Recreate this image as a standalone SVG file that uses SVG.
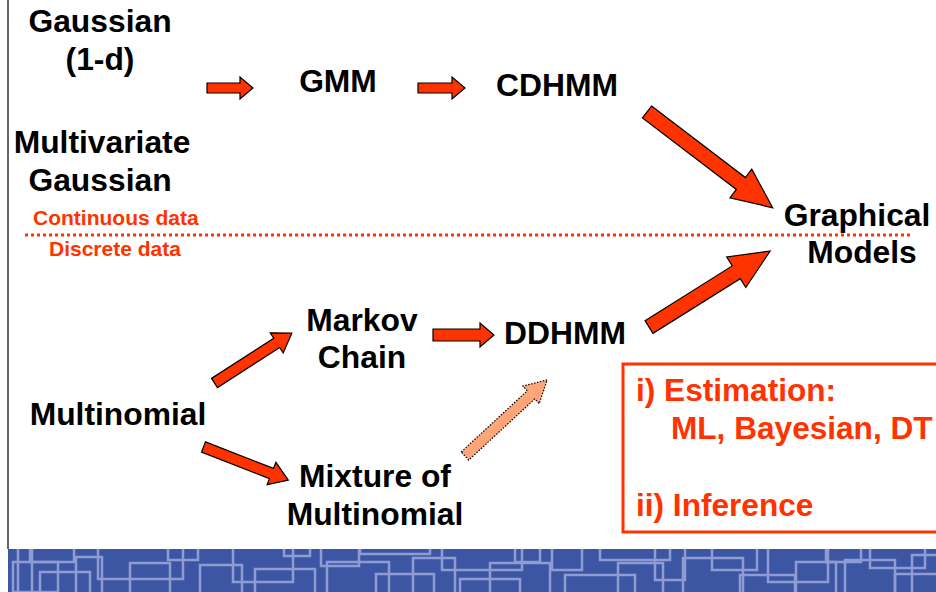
<svg xmlns="http://www.w3.org/2000/svg" width="936" height="592" viewBox="0 0 936 592">
<style>
.t{font-family:"Liberation Sans",Arial,sans-serif;font-weight:bold;font-size:31.8px;fill:#000;text-anchor:middle}
.r{font-family:"Liberation Sans",Arial,sans-serif;font-weight:bold;font-size:31.6px;fill:#ff3300}
.s{font-family:"Liberation Sans",Arial,sans-serif;font-weight:bold;font-size:21px;fill:#ff3300}
.arr{fill:#ff3300;stroke:#000;stroke-width:1.2;stroke-linejoin:miter}
.pe{fill:#ffa57a;stroke:#000;stroke-width:1.2;stroke-dasharray:1.5,1.5}
.pat{fill:none;stroke:#8e9cd3;stroke-width:2.5}
</style>
<defs>
<clipPath id="band"><rect x="8" y="549" width="928" height="43"/></clipPath>
</defs>
<rect width="936" height="592" fill="#fff"/>
<line x1="8" y1="0" x2="8" y2="549" stroke="#333" stroke-width="1.5"/>
<g id="footer">
<rect x="8" y="549" width="928" height="43" fill="#3c56a3"/>
<g clip-path="url(#band)" class="pat">
<rect x="18" y="540" width="14" height="60"/>
<rect x="30" y="540" width="44" height="22"/>
<rect x="13" y="562" width="45" height="30"/>
<rect x="40" y="572" width="50" height="30"/>
<rect x="76" y="557" width="26" height="45"/>
<rect x="98" y="540" width="85" height="39"/>
<rect x="130" y="563" width="40" height="40"/>
<rect x="168" y="540" width="30" height="20"/>
<rect x="200" y="565" width="42" height="40"/>
<rect x="233" y="540" width="60" height="42"/>
<rect x="255" y="569" width="60" height="33"/>
<rect x="284" y="540" width="26" height="16"/>
<rect x="321" y="540" width="38" height="26"/>
<rect x="327" y="562" width="62" height="40"/>
<rect x="360" y="540" width="70" height="14"/>
<rect x="376" y="574" width="58" height="28"/>
<rect x="413" y="558" width="42" height="44"/>
<rect x="442" y="540" width="80" height="30"/>
<rect x="460" y="579" width="60" height="24"/>
<rect x="490" y="563" width="60" height="40"/>
<rect x="515" y="540" width="25" height="22"/>
<rect x="552" y="540" width="30" height="30"/>
<rect x="565" y="575" width="70" height="26"/>
<rect x="600" y="540" width="70" height="20"/>
<rect x="618" y="563" width="45" height="40"/>
<rect x="655" y="540" width="30" height="40"/>
<rect x="683" y="558" width="60" height="44"/>
<rect x="712" y="540" width="45" height="30"/>
<rect x="740" y="575" width="55" height="26"/>
<rect x="768" y="540" width="60" height="42"/>
<rect x="796" y="562" width="40" height="40"/>
<rect x="826" y="540" width="35" height="22"/>
<rect x="845" y="560" width="50" height="42"/>
<rect x="870" y="540" width="55" height="28"/>
<rect x="895" y="574" width="45" height="30"/>
<rect x="912" y="555" width="30" height="40"/>
</g>
</g>
<g id="divider">
<line x1="25" y1="235" x2="912" y2="235" stroke="#ff3300" stroke-width="3" stroke-dasharray="3,3"/>
<text class="s" x="33" y="225">Continuous data</text>
<text class="s" x="49" y="256">Discrete data</text>
</g>
<g id="connectors">
<path class="arr" transform="translate(207,88)" d="M0,-5 H33 V-11 L46,0 L33,11 V5 H0 Z"/>
<path class="arr" transform="translate(418,88)" d="M0,-5 H34 V-11 L47,0 L34,11 V5 H0 Z"/>
<path class="arr" transform="translate(647,112) rotate(37.3)" d="M0,-7.5 H118 V-18 L158,0 L118,18 V7.5 H0 Z"/>
<path class="arr" transform="translate(649,327) rotate(-32.1)" d="M0,-7.5 H103 V-18 L143,0 L103,18 V7.5 H0 Z"/>
<path class="arr" transform="translate(433,335)" d="M0,-6 H47 V-12 L61,0 L47,12 V6 H0 Z"/>
<path class="arr" transform="translate(214.5,383) rotate(-32.8)" d="M0,-5.5 H74 V-12 L92,0 L74,12 V5.5 H0 Z"/>
<path class="arr" transform="translate(203.5,447) rotate(21.3)" d="M0,-5.5 H73 V-12 L91,0 L73,12 V5.5 H0 Z"/>
<path class="pe" transform="translate(465,456) rotate(-42.8)" d="M0,-5.5 H90 V-12 L112,0 L90,12 V5.5 H0 Z"/>
</g>
<g id="gaussian1d"><text class="t" x="100" y="32">Gaussian</text><text class="t" x="100" y="70">(1-d)</text></g>
<g id="gmm"><text class="t" x="338" y="92">GMM</text></g>
<g id="cdhmm"><text class="t" x="557" y="96">CDHMM</text></g>
<g id="multigauss"><text class="t" x="102" y="153">Multivariate</text><text class="t" x="100" y="191">Gaussian</text></g>
<g id="graphical"><text class="t" x="857" y="226">Graphical</text><text class="t" x="862" y="263">Models</text></g>
<g id="markov"><text class="t" x="362" y="331">Markov</text><text class="t" x="362" y="368">Chain</text></g>
<g id="ddhmm"><text class="t" x="565" y="344">DDHMM</text></g>
<g id="multinomial"><text class="t" x="118" y="425">Multinomial</text></g>
<g id="mixture"><text class="t" x="375" y="487">Mixture of</text><text class="t" x="375" y="525">Multinomial</text></g>
<g id="notes">
<rect x="623" y="364" width="330" height="168" fill="#fff" stroke="#ff3300" stroke-width="3"/>
<text class="r" x="636" y="401">i) Estimation:</text>
<text class="r" x="671" y="439">ML, Bayesian, DT</text>
<text class="r" x="636" y="516">ii) Inference</text>
</g>
</svg>
